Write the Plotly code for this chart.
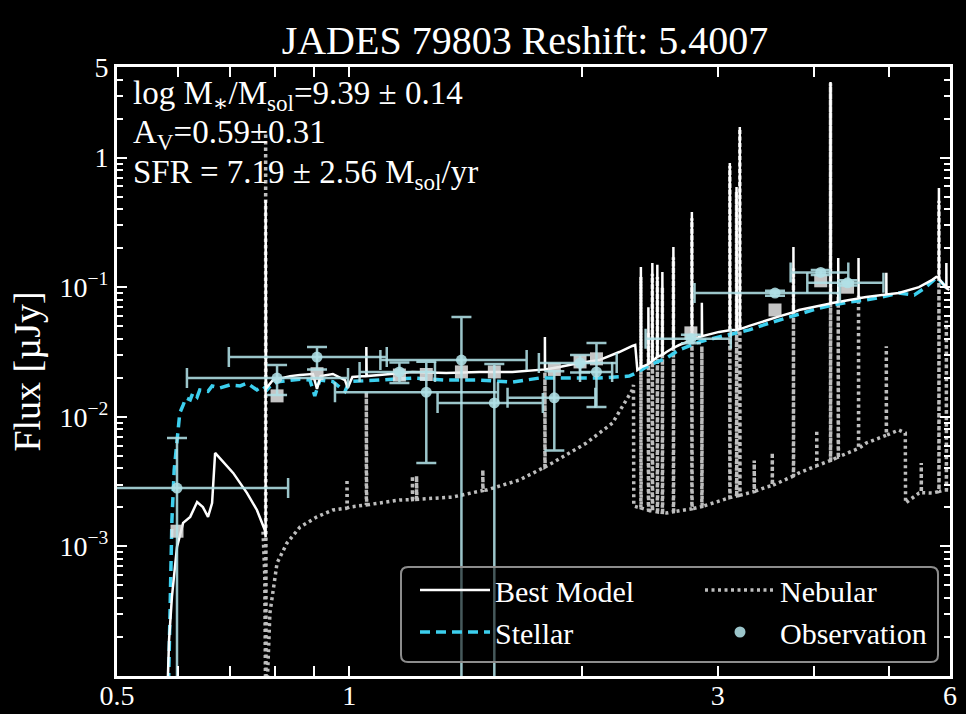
import math
import plotly.graph_objects as go

FONT = "Liberation Serif, Times New Roman, DejaVu Serif, serif"

# ---------------- data (wavelength in micron, flux in uJy) ----------------
best_model = [
    (0.580, 5e-5), (0.584, 1.9e-4), (0.589, 4.07e-4), (0.598, 9.9e-4), (0.609, 1.52e-3),
    (0.622, 1.69e-3), (0.635, 2.20e-3), (0.646, 2.01e-3), (0.656, 1.69e-3), (0.664, 2.16e-3),
    (0.670, 5.26e-3), (0.686, 4.48e-3), (0.707, 3.69e-3), (0.737, 2.58e-3), (0.759, 1.91e-3),
    (0.777, 1.34e-3), (0.779, 1.18e-3), (0.779, 0.47), (0.780, 0.0165), (0.796, 0.0192),
    (0.838, 0.0206), (0.863, 0.0210), (0.897, 0.0214), (0.908, 0.0164), (0.918, 0.0206),
    (0.952, 0.0214), (0.987, 0.0192), (0.995, 0.0167), (1.009, 0.0203), (1.049, 0.0206),
    (1.052, 0.0206), (1.052, 0.0346), (1.053, 0.0206), (1.094, 0.0210), (1.207, 0.0222),
    (1.335, 0.0218), (1.474, 0.0222), (1.626, 0.0222), (1.762, 0.0230), (1.792, 0.0232),
    (1.792, 0.0413), (1.793, 0.0232), (1.871, 0.0242), (1.985, 0.0260), (2.107, 0.0274),
    (2.237, 0.0316), (2.326, 0.0352), (2.346, 0.0358), (2.361, 0.0230), (2.386, 0.0240),
    (2.386, 0.143), (2.388, 0.0242), (2.440, 0.0255), (2.440, 0.0700), (2.442, 0.0256),
    (2.469, 0.0270), (2.469, 0.154), (2.471, 0.0271), (2.506, 0.0290), (2.506, 0.149),
    (2.508, 0.0291), (2.544, 0.0300), (2.544, 0.131), (2.546, 0.0301), (2.575, 0.0316),
    (2.629, 0.0340), (2.629, 0.204), (2.631, 0.0341), (2.675, 0.0358), (2.778, 0.0390),
    (2.778, 0.380), (2.780, 0.0391), (2.839, 0.0413), (2.862, 0.0418), (2.862, 0.0760),
    (2.864, 0.0419), (3.013, 0.0452), (3.111, 0.0465), (3.111, 0.908), (3.113, 0.0465),
    (3.174, 0.0470), (3.174, 0.593), (3.176, 0.0470), (3.205, 0.0475), (3.205, 1.72),
    (3.207, 0.0475), (3.297, 0.0503), (3.469, 0.0558), (3.604, 0.0595), (3.761, 0.0640),
    (3.761, 0.204), (3.763, 0.0641), (3.825, 0.0667), (4.027, 0.0714), (4.201, 0.0748),
    (4.201, 3.83), (4.203, 0.0748), (4.222, 0.0754), (4.299, 0.0770), (4.299, 0.168),
    (4.301, 0.0770), (4.443, 0.0796), (4.567, 0.0820), (4.567, 0.168), (4.569, 0.0821),
    (4.674, 0.0840), (4.962, 0.0880), (4.962, 0.129), (4.964, 0.0880), (5.150, 0.0902),
    (5.470, 0.1002), (5.690, 0.114), (5.760, 0.120), (5.805, 0.118), (5.805, 0.583),
    (5.807, 0.116), (5.864, 0.1077), (5.935, 0.100), (5.935, 0.154), (5.937, 0.098),
    (5.990, 0.0951),
]

stellar = [
    (0.582, 5e-5), (0.586, 3.86e-4), (0.589, 1.60e-3), (0.593, 3.89e-3), (0.598, 6.98e-3),
    (0.603, 0.0107), (0.609, 0.0123), (0.614, 0.0140), (0.622, 0.0135), (0.627, 0.0153),
    (0.635, 0.0142), (0.640, 0.0161), (0.656, 0.0157), (0.664, 0.0173), (0.680, 0.0167),
    (0.700, 0.0176), (0.722, 0.0173), (0.737, 0.0182), (0.759, 0.0161), (0.773, 0.0173),
    (0.782, 0.0161), (0.796, 0.0182), (0.813, 0.0187), (0.838, 0.0192), (0.863, 0.0195),
    (0.889, 0.0192), (0.902, 0.0145), (0.916, 0.0192), (0.952, 0.0187), (0.987, 0.0157),
    (1.000, 0.0187), (1.094, 0.0192), (1.207, 0.0199), (1.335, 0.0192), (1.474, 0.0192),
    (1.626, 0.0185), (1.762, 0.0199), (1.871, 0.0199), (2.107, 0.0199), (2.304, 0.0206),
    (2.354, 0.0218), (2.449, 0.0251), (2.575, 0.0284), (2.675, 0.0328), (2.839, 0.0378),
    (3.013, 0.0413), (3.133, 0.0435), (3.297, 0.0468), (3.469, 0.0520), (3.604, 0.0558),
    (3.825, 0.0621), (4.027, 0.0679), (4.222, 0.0728), (4.443, 0.0769), (4.674, 0.0796),
    (4.903, 0.0840), (5.150, 0.0902), (5.395, 0.0870), (5.557, 0.0979), (5.760, 0.118),
    (5.864, 0.1077), (5.990, 0.0918),
]

nebular = [
    (0.773, 1.30e-3), (0.777, 6.0e-4), (0.779, 5e-5), (0.779, 1.55), (0.780, 5e-5),
    (0.789, 3.06e-4), (0.806, 7.44e-4), (0.830, 1.06e-3), (0.863, 1.41e-3), (0.908, 1.69e-3),
    (0.952, 1.91e-3), (0.993, 1.98e-3), (0.993, 3.3e-3), (0.994, 1.98e-3), (1.000, 2.01e-3),
    (1.052, 2.09e-3), (1.052, 0.0156), (1.053, 2.09e-3), (1.161, 2.28e-3), (1.207, 2.30e-3),
    (1.207, 3.5e-3), (1.208, 2.30e-3), (1.222, 2.31e-3), (1.222, 3.5e-3), (1.223, 2.31e-3),
    (1.360, 2.40e-3), (1.489, 2.70e-3), (1.489, 3.9e-3), (1.490, 2.70e-3), (1.505, 2.72e-3),
    (1.660, 3.25e-3), (1.792, 4.1e-3), (1.792, 0.0220), (1.793, 4.1e-3), (1.832, 4.40e-3),
    (2.028, 6.28e-3), (2.192, 8.95e-3), (2.326, 0.0161), (2.334, 0.0176), (2.336, 2.05e-3),
    (2.361, 2.01e-3), (2.386, 1.98e-3), (2.386, 0.120), (2.388, 1.98e-3), (2.440, 1.9e-3),
    (2.440, 0.045), (2.442, 1.9e-3), (2.469, 1.88e-3), (2.469, 0.127), (2.471, 1.88e-3),
    (2.506, 1.85e-3), (2.506, 0.120), (2.508, 1.85e-3), (2.544, 1.83e-3), (2.544, 0.100),
    (2.546, 1.83e-3), (2.575, 1.81e-3), (2.629, 1.85e-3), (2.629, 0.170), (2.631, 1.85e-3),
    (2.778, 1.95e-3), (2.778, 0.340), (2.780, 1.95e-3), (2.839, 2.01e-3), (2.862, 2.03e-3),
    (2.862, 0.035), (2.864, 2.03e-3), (3.111, 2.38e-3), (3.111, 0.860), (3.113, 2.38e-3),
    (3.133, 2.40e-3), (3.174, 2.45e-3), (3.174, 0.546), (3.176, 2.45e-3), (3.205, 2.48e-3),
    (3.205, 1.67), (3.207, 2.48e-3), (3.346, 2.65e-3), (3.346, 4.6e-3), (3.348, 2.65e-3),
    (3.469, 2.87e-3), (3.531, 2.95e-3), (3.531, 5.3e-3), (3.533, 2.95e-3), (3.761, 3.5e-3),
    (3.761, 0.140), (3.763, 3.5e-3), (3.825, 3.69e-3), (4.032, 4.2e-3), (4.032, 7.9e-3),
    (4.034, 4.2e-3), (4.201, 4.6e-3), (4.201, 3.75), (4.203, 4.6e-3), (4.222, 4.65e-3),
    (4.299, 4.9e-3), (4.299, 0.091), (4.301, 4.9e-3), (4.567, 5.7e-3), (4.567, 0.086),
    (4.569, 5.7e-3), (4.674, 6.28e-3), (4.962, 7.2e-3), (4.962, 0.035), (4.964, 7.2e-3),
    (5.150, 7.91e-3), (5.251, 7.5e-3), (5.255, 2.16e-3), (5.470, 2.58e-3), (5.507, 2.6e-3),
    (5.507, 4.4e-3), (5.509, 2.6e-3), (5.690, 2.58e-3), (5.805, 2.65e-3), (5.805, 0.465),
    (5.807, 2.65e-3), (5.900, 2.72e-3), (5.935, 2.72e-3), (5.935, 0.055), (5.937, 2.72e-3),
    (5.990, 2.72e-3),
]

obs_wl = [0.598, 0.806, 0.908, 1.161, 1.258, 1.397, 1.541, 1.843, 1.990, 2.090, 2.770, 3.560, 4.080, 4.420]
obs_flux = [0.00282, 0.0199, 0.0289, 0.0222, 0.0155, 0.0274, 0.0128, 0.0140, 0.0260, 0.0222, 0.0400, 0.0900, 0.1300, 0.1080]
obs_wl_err = [0.235, 0.19, 0.21, 0.13, 0.30, 0.30, 0.24, 0.24, 0.23, 0.10, 0.35, 0.76, 0.35, 0.50]
obs_flux_err_hi = [0.00404, 0.0052, 0.0057, 0.004, 0.0111, 0.0315, 0.0127, 0.0085, 0.004, 0.0149, 0.003, 0.004, 0.006, 0.005]
obs_flux_err_lo = [0.00404, 0.0052, 0.0057, 0.004, 0.0111, 0.0315, 0.0135, 0.0085, 0.004, 0.0103, 0.003, 0.004, 0.006, 0.005]

phot_wl = [0.598, 0.806, 0.908, 1.161, 1.258, 1.397, 1.541, 1.843, 1.990, 2.090, 2.770, 3.560, 4.080, 4.420]
phot_flux = [0.00131, 0.0145, 0.0215, 0.0210, 0.0212, 0.0222, 0.0222, 0.0232, 0.0265, 0.0280, 0.0444, 0.0667, 0.1120, 0.1000]

x_ticks = [0.5, 1, 3, 6]
x_tick_labels = ["0.5", "1", "3", "6"]
x_minor = [0.6, 0.7, 0.8, 0.9, 2, 4, 5]
y_ticks = [1e-3, 1e-2, 1e-1, 1, 5]
y_tick_labels = ["10<sup>\u22123</sup>", "10<sup>\u22122</sup>", "10<sup>\u22121</sup>", "1", "5"]
y_minor = [m * 10 ** e for e in (-4, -3, -2, -1) for m in range(2, 10)] + [2, 3, 4]

info_lines = [
    "log M<sub>\u2217</sub>/M<sub>sol</sub>=9.39 \u00b1 0.14",
    "A<sub>V</sub>=0.59\u00b10.31",
    "SFR = 7.19 \u00b1 2.56 M<sub>sol</sub>/yr",
]

title_text = "JADES 79803 Reshift: 5.4007"

# ---------------- figure ----------------
best_wl = [p[0] for p in best_model]
best_flux = [p[1] for p in best_model]
stellar_wl = [p[0] for p in stellar]
stellar_flux = [p[1] for p in stellar]
neb_wl = [p[0] for p in nebular]
neb_flux = [p[1] for p in nebular]

OBS_COLOR = "rgba(176,224,230,0.88)"

fig = go.Figure()
fig.add_trace(go.Scatter(
    x=neb_wl, y=neb_flux, mode="lines", name="Nebular", legend="legend2", legendrank=1,
    line=dict(color="#bdbdbd", width=3.5, dash="3px,3.5px"),
))
fig.add_trace(go.Scatter(
    x=stellar_wl, y=stellar_flux, mode="lines", name="Stellar", legend="legend", legendrank=2,
    line=dict(color="#3ccfee", width=3.5, dash="10px,6px"),
))
fig.add_trace(go.Scatter(
    x=best_wl, y=best_flux, mode="lines", name="Best Model", legend="legend", legendrank=1,
    line=dict(color="white", width=2.5),
))
fig.add_trace(go.Scatter(
    x=phot_wl, y=phot_flux, mode="markers", showlegend=False,
    marker=dict(symbol="square", size=13, color="rgba(232,232,232,0.85)"),
))
fig.add_trace(go.Scatter(
    x=obs_wl, y=obs_flux, mode="markers", name="Observation", legend="legend2", legendrank=2,
    marker=dict(symbol="circle", size=11, color=OBS_COLOR),
    error_x=dict(type="data", symmetric=True, array=obs_wl_err,
                 color=OBS_COLOR, thickness=2.5, width=10),
    error_y=dict(type="data", symmetric=False, array=obs_flux_err_hi,
                 arrayminus=obs_flux_err_lo, color=OBS_COLOR, thickness=2.5, width=10),
))

axis_common = dict(
    showline=True, linecolor="white", linewidth=3, mirror="allticks",
    ticks="inside", tickcolor="white", tickwidth=2, showgrid=False, zeroline=False,
    tickfont=dict(family=FONT, size=28, color="white"),
)

fig.update_xaxes(
    type="log", range=[math.log10(0.5), math.log10(6)],
    tickmode="array", tickvals=x_ticks, ticktext=x_tick_labels, ticklen=10,
    ticklabelstandoff=-8,
    minor=dict(tickmode="array", tickvals=x_minor, ticks="inside", ticklen=10,
               tickwidth=2, tickcolor="white", showgrid=False),
    **axis_common,
)
fig.update_yaxes(
    type="log", range=[-4, math.log10(5)],
    tickmode="array", tickvals=y_ticks, ticktext=y_tick_labels, ticklen=10,
    minor=dict(tickmode="array", tickvals=y_minor, ticks="inside", ticklen=6,
               tickwidth=1.5, tickcolor="white", showgrid=False),
    title=dict(text="Flux [\u00b5Jy]", font=dict(family=FONT, size=38, color="white"), standoff=8),
    **axis_common,
)

info_y = [0.953, 0.889, 0.823]
for txt, yy in zip(info_lines, info_y):
    fig.add_annotation(
        text=txt, xref="paper", yref="paper", x=0.017, y=yy,
        xanchor="left", yanchor="middle", showarrow=False,
        font=dict(family=FONT, size=33, color="white"),
    )

# legend frame (rounded box) in paper coordinates
PW, PH = 833.0, 609.0
bx0, bx1 = (401 - 117) / PW, (938 - 117) / PW
by0, by1 = (676 - 662) / PH, (676 - 567) / PH
rx, ry = 7 / PW, 7 / PH
frame = (f"M {bx0+rx},{by0} L {bx1-rx},{by0} Q {bx1},{by0} {bx1},{by0+ry} "
         f"L {bx1},{by1-ry} Q {bx1},{by1} {bx1-rx},{by1} L {bx0+rx},{by1} "
         f"Q {bx0},{by1} {bx0},{by1-ry} L {bx0},{by0+ry} Q {bx0},{by0} {bx0+rx},{by0} Z")
fig.add_shape(type="path", path=frame, xref="paper", yref="paper", layer="above",
              line=dict(color="#8c8c8c", width=2), fillcolor="rgba(0,0,0,0.55)")

legend_common = dict(
    orientation="v", yanchor="top", xanchor="left", y=(676 - 564) / PH,
    bgcolor="rgba(0,0,0,0)", borderwidth=0, itemwidth=70, traceorder="normal",
    font=dict(family=FONT, size=30, color="white"), tracegroupgap=0,
)

fig.update_layout(
    width=966, height=714,
    margin=dict(l=117, r=16, t=67, b=38, autoexpand=False),
    paper_bgcolor="black", plot_bgcolor="black",
    font=dict(family=FONT, color="white", size=28),
    title=dict(text=title_text, font=dict(family=FONT, size=40, color="white"),
               xref="container", yref="container", x=525 / 966, xanchor="center",
               y=1 - 40 / 714, yanchor="middle"),
    showlegend=True,
    hovermode=False,
    legend=dict(x=(415 - 117) / PW, **legend_common),
    legend2=dict(x=(700 - 117) / PW, **legend_common),
)

fig.write_html(
    "out.html",
    config={"displayModeBar": False},
    post_script="document.body.style.margin='0';document.body.style.overflow='hidden';",
)
